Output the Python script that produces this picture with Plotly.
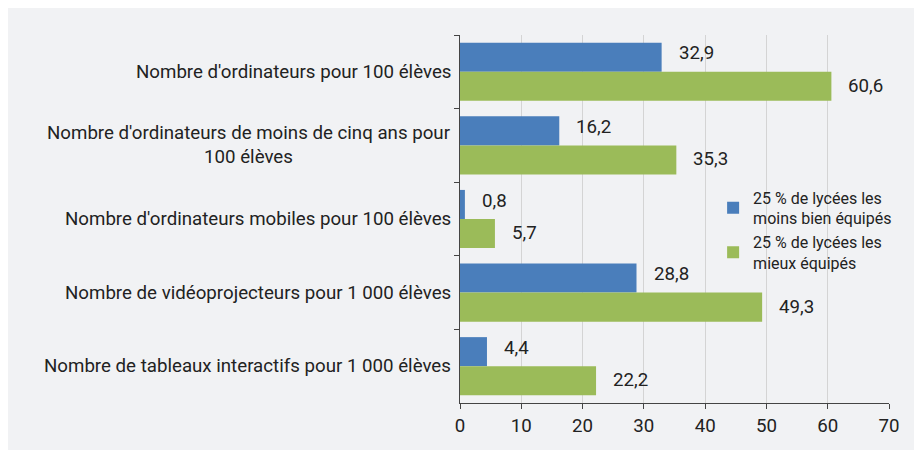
import plotly.graph_objects as go

categories = [
    "Nombre d'ordinateurs pour 100 élèves",
    "Nombre d'ordinateurs de moins de cinq ans pour<br>100 élèves",
    "Nombre d'ordinateurs mobiles pour 100 élèves",
    "Nombre de vidéoprojecteurs pour 1 000 élèves",
    "Nombre de tableaux interactifs pour 1 000 élèves",
]
series_names = [
    "25 % de lycées les<br>moins bien équipés",
    "25 % de lycées les<br>mieux équipés",
]
least_equipped = [32.9, 16.2, 0.8, 28.8, 4.4]
best_equipped = [60.6, 35.3, 5.7, 49.3, 22.2]
x_ticks = [0, 10, 20, 30, 40, 50, 60, 70]

colors = ["#4a7ebb", "#9bbb59"]
FONT = "Roboto"
TXT = "#222222"
BG = "#f1f2f4"
FS = 18.7

def fmt(v):
    return f"{v:.1f}".replace(".", ",")

fig = go.Figure()
for name, vals, col in zip(series_names, [least_equipped, best_equipped], colors):
    fig.add_trace(go.Bar(
        y=categories, x=vals, name=name, orientation="h",
        marker=dict(color=col, line=dict(width=0)),
    ))

label_offsets = [-0.25, 0.19]
annotations = []
for k, vals in enumerate([least_equipped, best_equipped]):
    for i, v in enumerate(vals):
        annotations.append(dict(
            x=v, y=i + label_offsets[k],
            xref="x", yref="y", text=fmt(v), showarrow=False,
            xanchor="left", yanchor="middle", xshift=15,
            font=dict(family=FONT, size=FS, color=TXT),
        ))
for i, c in enumerate(categories):
    annotations.append(dict(
        x=0, y=i, xref="paper", yref="y", text=c, showarrow=False,
        xanchor="right", yanchor="middle", align="center", xshift=-7,
        font=dict(family=FONT, size=FS, color=TXT),
    ))

fig.update_layout(
    width=914, height=442,
    margin=dict(l=452, r=33, t=27, b=47),
    paper_bgcolor=BG,
    plot_bgcolor=BG,
    barmode="group", bargap=0.21, bargroupgap=0,
    font=dict(family=FONT, size=FS, color=TXT),
    showlegend=True,
    legend=dict(
        x=0.59, y=0.605, xanchor="left", yanchor="top",
        bgcolor="rgba(0,0,0,0)", font=dict(family=FONT, size=16, color=TXT),
        itemwidth=30, tracegroupgap=5,
    ),
    annotations=annotations,
)
fig.update_xaxes(
    range=[0, 70], tickvals=x_ticks, showgrid=True, gridcolor="#d4d4d4", gridwidth=1,
    showline=True, linecolor="#444444", linewidth=1.3,
    ticks="outside", ticklen=5, tickcolor="#444444",
    zeroline=False, tickfont=dict(family=FONT, size=FS, color=TXT),
)
fig.update_yaxes(
    autorange="reversed", showticklabels=False,
    showline=True, linecolor="#444444", linewidth=1.3,
    ticks="outside", ticklen=5, tickcolor="#444444", tickson="boundaries",
    showgrid=False,
)
fig.write_html("out.html")
